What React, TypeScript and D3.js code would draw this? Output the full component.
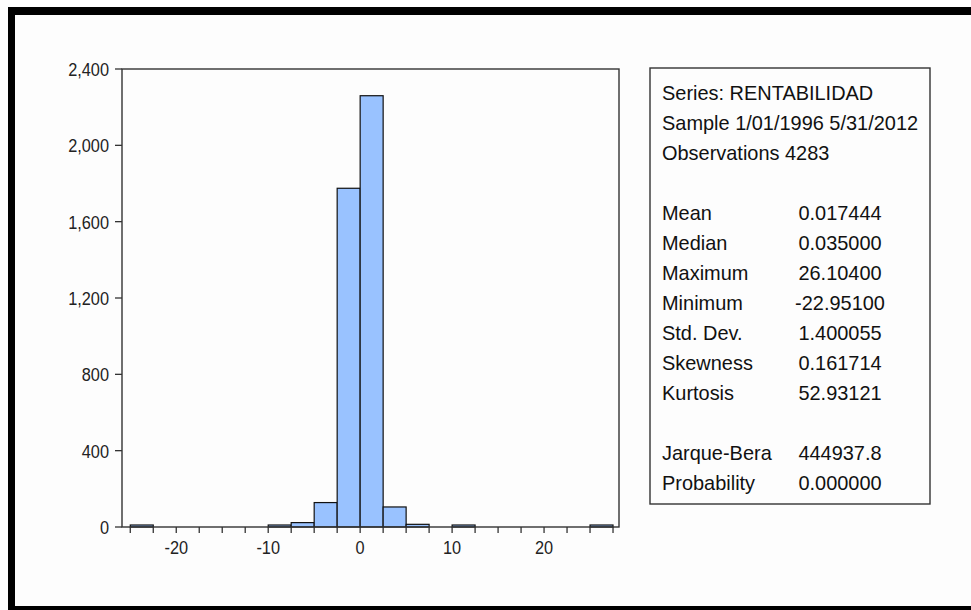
import React from "react";
import * as d3 from "d3";

const binStarts = [-25, -10, -7.5, -5, -2.5, 0, 2.5, 5, 10, 25];
const binCounts = [1, 2, 23, 128, 1775, 2260, 105, 14, 2, 1];
const binWidth = 2.5;
const yTicks = [0, 400, 800, 1200, 1600, 2000, 2400];
const xLabelTicks = [-20, -10, 0, 10, 20];
const statsHeader = ["Series: RENTABILIDAD", "Sample 1/01/1996 5/31/2012", "Observations 4283"];
const statLabels = ["Mean", "Median", "Maximum", "Minimum", "Std. Dev.", "Skewness", "Kurtosis", "", "Jarque-Bera", "Probability"];
const statValues = ["0.017444", "0.035000", "26.10400", "-22.95100", "1.400055", "0.161714", "52.93121", "", "444937.8", "0.000000"];

export default function App() {
  const W = 971, H = 610;
  const plot = { left: 122, right: 619, top: 69, bottom: 527 };
  const x = d3.scaleLinear().domain([-25.9, 28.15]).range([plot.left, plot.right]);
  const y = d3.scaleLinear().domain([0, 2400]).range([plot.bottom, plot.top]);
  const minorTicks = d3.range(-25, 28, 2.5);
  const font = "'Liberation Sans', Arial, sans-serif";
  const axisColor = "#333";
  const tickSX = 0.86;
  const statSX = 0.95;

  return (
    <div style={{ position: "absolute", left: 0, top: 0 }}>
      <svg width={W} height={H} style={{ display: "block", background: "#fdfdfd" }}>
        {/* outer frame */}
        <rect x={0} y={0} width={W} height={H} fill="#fdfdfd" />
        <rect x={8} y={7} width={W - 8} height={8} fill="#000" />
        <rect x={8} y={7} width={7} height={H - 7} fill="#000" />
        <rect x={8} y={606} width={W - 8} height={4} fill="#000" />

        {/* bars */}
        {binStarts.map((s, i) => {
          const h = y(0) - y(binCounts[i]);
          return (
            <rect
              key={i}
              x={x(s)}
              y={h < 2 ? y(0) - 2 : y(binCounts[i])}
              width={x(s + binWidth) - x(s)}
              height={Math.max(2, h)}
              fill="#99c2ff"
              stroke="#111"
              strokeWidth={1.2}
            />
          );
        })}

        {/* plot frame */}
        <rect
          x={plot.left}
          y={plot.top}
          width={plot.right - plot.left}
          height={plot.bottom - plot.top}
          fill="none"
          stroke={axisColor}
          strokeWidth={1.4}
        />

        {/* y axis ticks */}
        {yTicks.map((t) => (
          <g key={t}>
            <line x1={plot.left - 7} x2={plot.left} y1={y(t)} y2={y(t)} stroke={axisColor} strokeWidth={1.3} />
            <text
              transform={`translate(${plot.left - 13},${y(t) + 7}) scale(${tickSX},1)`}
              textAnchor="end"
              fontFamily={font}
              fontSize={19}
              fill="#222"
            >
              {d3.format(",")(t)}
            </text>
          </g>
        ))}

        {/* x axis ticks */}
        {minorTicks.map((t) => (
          <line key={t} x1={x(t)} x2={x(t)} y1={plot.bottom} y2={plot.bottom + 6} stroke={axisColor} strokeWidth={1.3} />
        ))}
        {xLabelTicks.map((t) => (
          <text
            key={t}
            transform={`translate(${x(t)},${plot.bottom + 27}) scale(${tickSX},1)`}
            textAnchor="middle"
            fontFamily={font}
            fontSize={19}
            fill="#222"
          >
            {t}
          </text>
        ))}

        {/* stats box */}
        <rect x={650} y={68} width={280} height={436} fill="none" stroke={axisColor} strokeWidth={1.4} />
        {statsHeader.map((s, i) => (
          <text
            key={s}
            transform={`translate(662,${100 + i * 30}) scale(${statSX},1)`}
            fontFamily={font}
            fontSize={21}
            fill="#111"
          >
            {s}
          </text>
        ))}
        {statLabels.map((s, i) =>
          s ? (
            <g key={s}>
              <text
                transform={`translate(662,${220 + i * 30}) scale(${statSX},1)`}
                fontFamily={font}
                fontSize={21}
                fill="#111"
              >
                {s}
              </text>
              <text
                transform={`translate(840,${220 + i * 30}) scale(${statSX},1)`}
                textAnchor="middle"
                fontFamily={font}
                fontSize={21}
                fill="#111"
              >
                {statValues[i]}
              </text>
            </g>
          ) : null
        )}
      </svg>
    </div>
  );
}
